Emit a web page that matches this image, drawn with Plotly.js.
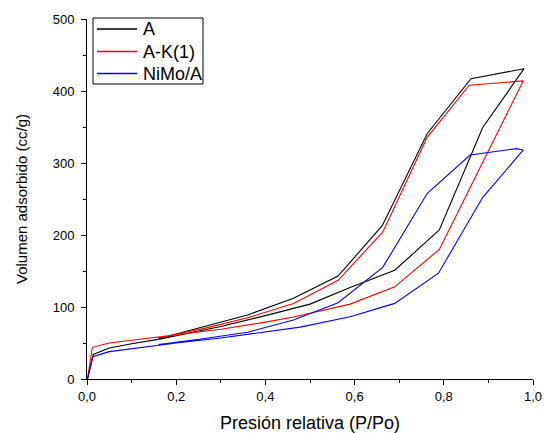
<!DOCTYPE html>
<html>
<head>
<meta charset="utf-8">
<script src="https://cdn.plot.ly/plotly-3.0.1.min.js"></script>
<style>html,body{margin:0;padding:0;background:#fff;}#chart{width:544px;height:433px;}</style>
</head>
<body>
<div id="chart"></div>
<script>
// Sample names
const seriesNames = ["A", "A-K(1)", "NiMo/A"];
const seriesColors = ["#000000", "#ff0000", "#0000ff"];

// A: adsorption branch
const aAdsX = [0.001, 0.014, 0.05, 0.1, 0.16, 0.2, 0.3, 0.4, 0.5, 0.59, 0.69, 0.79, 0.887, 0.98];
const aAdsY = [0, 34, 43, 49, 55, 60, 73, 88, 104, 127, 151, 207, 349, 431];
// A: desorption branch
const aDesX = [0.98, 0.861, 0.763, 0.662, 0.563, 0.463, 0.36, 0.26, 0.16];
const aDesY = [431, 417, 341, 213, 143, 112, 89, 73, 56];

// A-K(1): adsorption branch
const akAdsX = [0.001, 0.012, 0.05, 0.1, 0.16, 0.2, 0.3, 0.4, 0.463, 0.59, 0.69, 0.79, 0.978];
const akAdsY = [0, 44, 50, 54, 58, 61, 69, 79, 86, 104, 128, 180, 414];
// A-K(1): desorption branch
const akDesX = [0.978, 0.857, 0.763, 0.663, 0.563, 0.463, 0.36, 0.26, 0.16];
const akDesY = [414, 408, 336, 204, 137, 105, 85, 70, 57];

// NiMo/A: adsorption branch
const nmAdsX = [0.001, 0.013, 0.05, 0.1, 0.16, 0.2, 0.3, 0.4, 0.478, 0.59, 0.69, 0.788, 0.887, 0.978];
const nmAdsY = [0, 31, 38, 42, 47, 50, 57, 65, 72, 86.5, 105, 147, 252, 318];
// NiMo/A: desorption branch
const nmDesX = [0.978, 0.963, 0.859, 0.763, 0.663, 0.563, 0.463, 0.36, 0.26, 0.16];
const nmDesY = [318, 320, 311, 258, 155, 106, 82, 65, 56, 48];

// Axis ticks
const xTickVals = [0, 0.2, 0.4, 0.6, 0.8, 1.0];
const yTickVals = [0, 100, 200, 300, 400, 500];

const branches = [
  [aAdsX, aAdsY, aDesX, aDesY],
  [akAdsX, akAdsY, akDesX, akDesY],
  [nmAdsX, nmAdsY, nmDesX, nmDesY]
];

const traces = branches.map((b, i) => ({
  type: "scatter",
  mode: "lines",
  name: seriesNames[i],
  x: b[0].concat(b[2]),
  y: b[1].concat(b[3]),
  line: {color: seriesColors[i], width: 1.1},
  hoverinfo: "skip",
  showlegend: false
}));

const font = "Arial, 'Liberation Sans', sans-serif";

// Legend box drawn in pixel-derived paper coordinates
const W = 544, H = 433;
const M = {l: 87, r: 11, t: 19, b: 54};
const pw = W - M.l - M.r, ph = H - M.t - M.b;
const px = v => (v - M.l) / pw;          // pixel x -> paper x
const py = v => (H - M.b - v) / ph;      // pixel y -> paper y

const legBox = {x0: 93, x1: 203, y0: 18, y1: 84};
const legRows = [29, 51.5, 73.5];
const shapes = [{
  type: "rect", xref: "paper", yref: "paper",
  x0: px(legBox.x0), x1: px(legBox.x1), y0: py(legBox.y1), y1: py(legBox.y0),
  line: {color: "#000000", width: 1}, fillcolor: "#ffffff", layer: "above"
}];
const annotations = [];
seriesNames.forEach((n, i) => {
  shapes.push({
    type: "line", xref: "paper", yref: "paper",
    x0: px(97), x1: px(137), y0: py(legRows[i]), y1: py(legRows[i]),
    line: {color: seriesColors[i], width: 1.3}, layer: "above"
  });
  annotations.push({
    xref: "paper", yref: "paper", x: px(141), y: py(legRows[i]),
    xanchor: "left", yanchor: "middle", showarrow: false,
    text: n, font: {family: font, size: 18, color: "#000000"}
  });
});

const layout = {
  width: W,
  height: H,
  margin: {l: M.l, r: M.r, t: M.t, b: M.b, pad: 0},
  paper_bgcolor: "#ffffff",
  plot_bgcolor: "#ffffff",
  separators: ",.",
  font: {family: font, color: "#000000", size: 13},
  showlegend: false,
  shapes: shapes,
  annotations: annotations,
  xaxis: {
    range: [0, 1.0],
    tickvals: xTickVals,
    tickformat: ".1f",
    ticks: "outside", ticklen: 5, tickwidth: 1, tickcolor: "#000000",
    minor: {dtick: 0.1, ticks: "outside", ticklen: 3, tickwidth: 1, tickcolor: "#000000", showgrid: false},
    showline: true, linecolor: "#000000", linewidth: 1,
    showgrid: false, zeroline: false,
    tickfont: {family: font, size: 13, color: "#000000"},
    title: {text: "Presión relativa (P/Po)", font: {family: font, size: 18, color: "#000000"}, standoff: 14}
  },
  yaxis: {
    range: [0, 500],
    tickvals: yTickVals,
    ticks: "outside", ticklen: 5, tickwidth: 1, tickcolor: "#000000",
    ticklabelstandoff: 4,
    minor: {dtick: 50, ticks: "outside", ticklen: 3, tickwidth: 1, tickcolor: "#000000", showgrid: false},
    showline: true, linecolor: "#000000", linewidth: 1,
    showgrid: false, zeroline: false,
    tickfont: {family: font, size: 13, color: "#000000"},
    title: {text: "Volumen adsorbido (cc/g)", font: {family: font, size: 15, color: "#000000"}, standoff: 21}
  }
};

Plotly.newPlot("chart", traces, layout, {staticPlot: true, displayModeBar: false});
</script>
</body>
</html>
